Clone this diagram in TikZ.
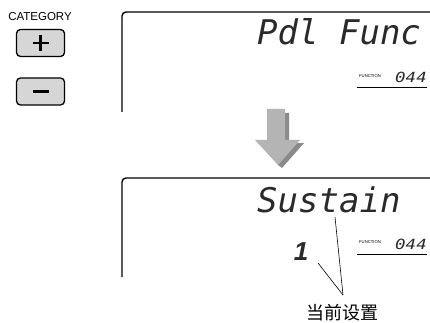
\documentclass[tikz,border=0pt]{standalone}
\usepackage{fontspec}
\usepackage{graphicx}
\setmainfont{Liberation Sans}
\newfontfamily\lcd{DejaVu Sans Mono}
\newfontfamily\cjk{Noto Sans CJK SC}
\definecolor{btnfill}{HTML}{D6D6D6}
\definecolor{arrowlight}{HTML}{B4B4B4}
\definecolor{arrowdark}{HTML}{8A8A8A}
\definecolor{lcdtext}{HTML}{2A2A2A}
\tikzset{
  btn/.style={draw=black, line width=1.3pt, fill=btnfill, rounded corners=4pt,
              minimum width=48pt, minimum height=27pt, inner sep=0pt},
  sign/.style={line width=2.4pt},
  lcdframe/.style={line width=1.4pt, rounded corners=4pt},
  bigtext/.style={font=\lcd\itshape\fontsize{34}{34}\selectfont, text=lcdtext, inner sep=0pt, anchor=base west},
  segtext/.style={font=\lcd\itshape\fontsize{14}{14}\selectfont, text=lcdtext, inner sep=0pt, anchor=base east},
  tinytext/.style={font=\fontsize{4.2}{4.5}\selectfont, inner sep=0pt},
  leader/.style={line width=0.6pt},
}
\begin{document}
\begin{tikzpicture}[x=1pt,y=-1pt]
\useasboundingbox (0,0) rectangle (430,323);
% left buttons
\node[font=\fontsize{11.5}{12}\selectfont, inner sep=0pt] (cat) at (40,17) {CATEGORY};
\node[btn] (plus) at (40.5,43) {};
\node[btn] (minus) at (40.5,91.5) {};
\draw[sign] ([xshift=-8pt]plus.center) -- ([xshift=8pt]plus.center);
\draw[sign] ([yshift=-8pt]plus.center) -- ([yshift=8pt]plus.center);
\draw[sign] ([xshift=-8pt]minus.center) -- ([xshift=8pt]minus.center);
% display 1
\draw[lcdframe] (122,112) -- (122,12) -- (432,12);
\node[bigtext] (pdl) at (257,45) {Pdl Func};
\node[tinytext] (fn1) at (370,76) {FUNCTION};
\node[segtext] (num1) at (427,83) {\scalebox{1.25}[1]{044}};
\draw[line width=0.8pt] (357,87) -- (427,87);
% arrow
\fill[arrowdark] (271,113) -- (289,113) -- (289,143) -- (304,143) -- (282,168) -- (278,165) -- cycle;
\fill[arrowlight] (267,109) -- (285,109) -- (285,140) -- (300,140) -- (278,165) -- (255,140) -- (267,140) -- cycle;
% display 2
\draw[lcdframe] (122,277) -- (122,178) -- (432,178);
\node[bigtext] (sus) at (257,212) {Sustain};
\node[tinytext] (fn2) at (370,242) {FUNCTION};
\node[segtext] (num2) at (427,249) {\scalebox{1.25}[1]{044}};
\draw[line width=0.8pt] (357,254) -- (427,254);
\node[font=\itshape\bfseries\fontsize{26}{26}\selectfont, text=lcdtext, inner sep=0pt] (one) at (301,252) {1};
% leader lines and label
\node[font=\cjk\fontsize{18}{18}\selectfont, inner sep=0pt] (lab) at (342,313) {当前设置};
\coordinate (conv) at (343,295);
\coordinate (p1) at (335,217);
\coordinate (p2) at (318,263);
\draw[leader] (p1) -- (conv);
\draw[leader] (p2) -- (conv);
\end{tikzpicture}
\end{document}
